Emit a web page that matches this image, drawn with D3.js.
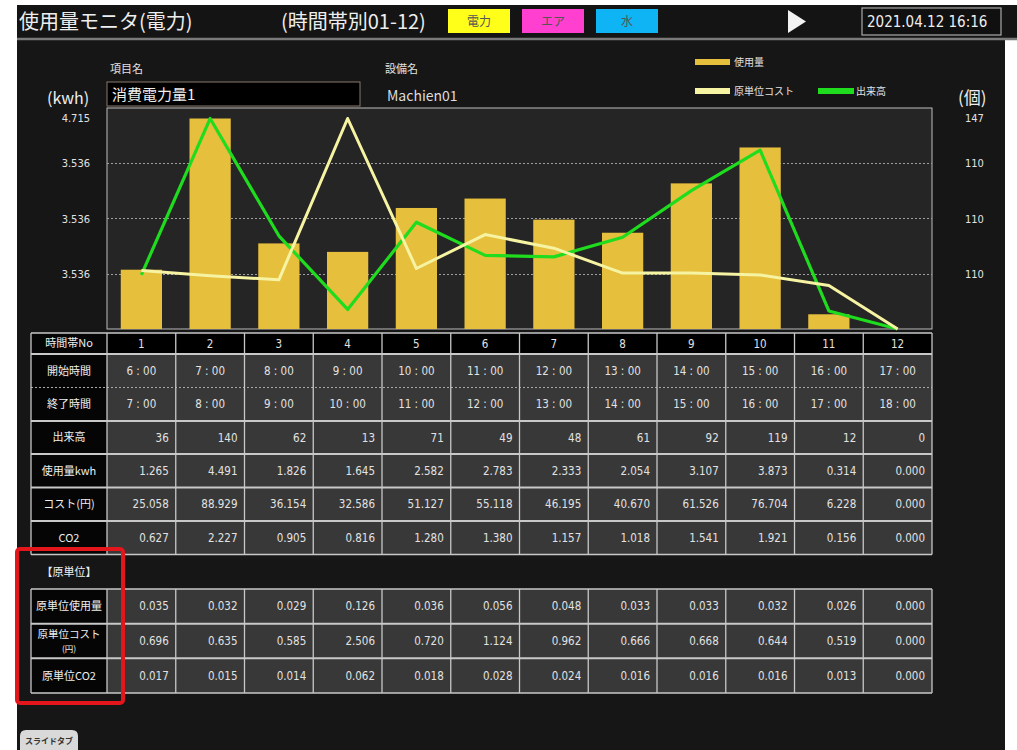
<!DOCTYPE html>
<html><head><meta charset="utf-8">
<script src="https://cdn.jsdelivr.net/npm/d3@7"></script>
<style>
html,body{margin:0;padding:0;background:#fff;}
svg{display:block;}
text{font-family:"Noto Sans CJK JP","Noto Sans",sans-serif;}
.num{font-family:"Liberation Sans Narrow","DejaVu Sans Condensed","Noto Sans CJK JP",sans-serif;}
</style></head>
<body>
<script>
// ---------- data ----------
const slots = ["1","2","3","4","5","6","7","8","9","10","11","12"];
const startTimes = ["6 : 00","7 : 00","8 : 00","9 : 00","10 : 00","11 : 00","12 : 00","13 : 00","14 : 00","15 : 00","16 : 00","17 : 00"];
const endTimes = ["7 : 00","8 : 00","9 : 00","10 : 00","11 : 00","12 : 00","13 : 00","14 : 00","15 : 00","16 : 00","17 : 00","18 : 00"];
const output = [36,140,62,13,71,49,48,61,92,119,12,0];
const usage = [1.265,4.491,1.826,1.645,2.582,2.783,2.333,2.054,3.107,3.873,0.314,0.000];
const cost = [25.058,88.929,36.154,32.586,51.127,55.118,46.195,40.670,61.526,76.704,6.228,0.000];
const co2 = [0.627,2.227,0.905,0.816,1.280,1.380,1.157,1.018,1.541,1.921,0.156,0.000];
const unitUsage = [0.035,0.032,0.029,0.126,0.036,0.056,0.048,0.033,0.033,0.032,0.026,0.000];
const unitCost = [0.696,0.635,0.585,2.506,0.720,1.124,0.962,0.666,0.668,0.644,0.519,0.000];
const unitCO2 = [0.017,0.015,0.014,0.062,0.018,0.028,0.024,0.016,0.016,0.016,0.013,0.000];
const leftMax = 4.715, rightMax = 147, costMax = 2.631;
const leftTickValues = [4.715, 3.536, 2.358, 1.179];
const leftTickLabels = ["4.715","3.536","3.536","3.536"];
const rightTickValues = [147, 110.25, 73.5, 36.75];
const rightTickLabels = ["147","110","110","110"];
const legendNames = ["使用量","原単位コスト","出来高"];
const tableLabels = ["時間帯No","開始時間","終了時間","出来高","使用量kwh","コスト(円)","CO2"];
const unitLabels = [["原単位使用量"],["原単位コスト","(円)"],["原単位CO2"]];

// ---------- layout ----------
const W = 1017, H = 750;
const plot = {x0:107, x1:932, y0:108, y1:329};
const C = {bar:"#e6bf3c", green:"#1fdc1f", pale:"#f6f3a2", txt:"#e2e2e2", cell:"#383838", lbl:"#050505", line:"#c8c8c8"};

const svg = d3.select("body").append("svg").attr("width",W).attr("height",H);
svg.append("rect").attr("width",W).attr("height",H).attr("fill","#fff");
svg.append("rect").attr("x",17).attr("y",5).attr("width",988).attr("height",745).attr("fill","#161616");
// header
svg.append("rect").attr("x",17).attr("y",5).attr("width",1000).attr("height",33).attr("fill","#141414");
svg.append("line").attr("x1",17).attr("x2",1017).attr("y1",39).attr("y2",39).attr("stroke","#7a7a7a").attr("stroke-width",2.5);
svg.append("text").attr("x",19).attr("y",29).attr("font-size",20).attr("fill","#eee").text("使用量モニタ(電力)");
svg.append("text").attr("x",281).attr("y",29).attr("font-size",20).attr("fill","#eee").text("(時間帯別01-12)");
const btns = [{t:"電力",c:"#ffff1a",x:448},{t:"エア",c:"#ff3fd0",x:522},{t:"水",c:"#0fb4f5",x:596}];
btns.forEach(b=>{
  svg.append("rect").attr("x",b.x).attr("y",9).attr("width",62).attr("height",24).attr("fill",b.c);
  svg.append("text").attr("x",b.x+31).attr("y",26).attr("text-anchor","middle").attr("font-size",12).attr("fill","#555").text(b.t);
});
svg.append("path").attr("d","M788,10 L806,21.5 L788,33 Z").attr("fill","#f2f2f2");
svg.append("rect").attr("x",862).attr("y",8).attr("width",139).attr("height",27).attr("fill","#101010").attr("stroke","#aaa").attr("stroke-width",1.2);
svg.append("text").attr("class","num").attr("x",867).attr("y",27).attr("font-size",15).attr("fill","#eee").text("2021.04.12 16:16");

// item name / equipment
svg.append("text").attr("x",110).attr("y",73).attr("font-size",11).attr("fill",C.txt).text("項目名");
svg.append("rect").attr("x",107).attr("y",82).attr("width",253).attr("height",24).attr("fill","#000").attr("stroke","#8a7a6a");
svg.append("text").attr("x",112).attr("y",100).attr("font-size",15).attr("fill","#eee").text("消費電力量1");
svg.append("text").attr("x",385).attr("y",73).attr("font-size",11).attr("fill",C.txt).text("設備名");
svg.append("text").attr("x",387).attr("y",101).attr("font-size",14).attr("fill","#ddd").attr("font-family","DejaVu Sans Mono, monospace").text("Machien01");
svg.append("text").attr("x",47).attr("y",104).attr("font-size",16).attr("fill","#eee").text("(kwh)");
svg.append("text").attr("x",958).attr("y",104).attr("font-size",17).attr("fill","#eee").text("(個)");

// legend
const lg = svg.append("g");
lg.append("rect").attr("x",695).attr("y",59).attr("width",35).attr("height",6).attr("fill",C.bar);
lg.append("text").attr("x",734).attr("y",66).attr("font-size",10).attr("fill",C.txt).text(legendNames[0]);
lg.append("rect").attr("x",695).attr("y",88).attr("width",35).attr("height",6).attr("fill",C.pale);
lg.append("text").attr("x",734).attr("y",95).attr("font-size",10).attr("fill",C.txt).text(legendNames[1]);
lg.append("rect").attr("x",818).attr("y",88).attr("width",36).attr("height",6).attr("fill",C.green);
lg.append("text").attr("x",856).attr("y",95).attr("font-size",10).attr("fill",C.txt).text(legendNames[2]);

// scales
const x = d3.scaleBand().domain(slots).range([plot.x0,plot.x1]).paddingInner(0.4).paddingOuter(0.2);
const col = d3.scaleBand().domain(slots).range([plot.x0,plot.x1]).padding(0);
const yL = d3.scaleLinear().domain([0,leftMax]).range([plot.y1,plot.y0]);
const yR = d3.scaleLinear().domain([0,rightMax]).range([plot.y1,plot.y0]);
const yC = d3.scaleLinear().domain([0,costMax]).range([plot.y1,plot.y0]);

svg.append("rect").attr("x",plot.x0).attr("y",plot.y0).attr("width",plot.x1-plot.x0).attr("height",plot.y1-plot.y0)
  .attr("fill","#252525").attr("stroke","#bdbdbd").attr("stroke-width",1);
svg.append("g").selectAll("line").data(leftTickValues.slice(1)).join("line")
  .attr("x1",plot.x0).attr("x2",plot.x1).attr("y1",d=>Math.round(yL(d))+0.5).attr("y2",d=>Math.round(yL(d))+0.5)
  .attr("stroke","#a0a0a0").attr("stroke-dasharray","2,2");

const axL = svg.append("g").attr("transform",`translate(${plot.x0},0)`)
  .call(d3.axisLeft(yL).tickValues(leftTickValues).tickSize(0).tickPadding(17).tickFormat((d,i)=>leftTickLabels[i]));
axL.select(".domain").remove();
axL.selectAll("text").attr("class","num").attr("font-size",11).attr("fill",C.txt).attr("dy",(d,i)=>i===0?"1.2em":"0.32em");
const axR = svg.append("g").attr("transform",`translate(${plot.x1},0)`)
  .call(d3.axisRight(yR).tickValues(rightTickValues).tickSize(0).tickPadding(33).tickFormat((d,i)=>rightTickLabels[i]));
axR.select(".domain").remove();
axR.selectAll("text").attr("class","num").attr("font-size",11).attr("fill",C.txt).attr("dy",(d,i)=>i===0?"1.2em":"0.32em");

// bars
svg.append("g").selectAll("rect").data(usage).join("rect")
  .attr("x",(d,i)=>x(slots[i])).attr("width",x.bandwidth())
  .attr("y",d=>yL(d)).attr("height",d=>plot.y1-yL(d)).attr("fill",C.bar);
const cx = i => x(slots[i]) + x.bandwidth()/2;
svg.append("path").datum(output).attr("fill","none").attr("stroke",C.green).attr("stroke-width",3.2).attr("stroke-linejoin","round")
  .attr("d",d3.line().x((d,i)=>cx(i)).y(d=>yR(d)));
svg.append("path").datum(unitCost).attr("fill","none").attr("stroke",C.pale).attr("stroke-width",3).attr("stroke-linejoin","round")
  .attr("d",d3.line().x((d,i)=>cx(i)).y(d=>yC(d)));

// ---------- table ----------
const f3 = d3.format(".3f");
const t = svg.append("g");
const lblX0 = 31, lblX1 = plot.x0;
const rowTops = [333,354,387.5,421,454,487.5,521,554.5];
const rows = [
  {vals:slots, align:"middle", hdr:true},
  {vals:startTimes, align:"middle"},
  {vals:endTimes, align:"middle"},
  {vals:output.map(String), align:"end"},
  {vals:usage.map(f3), align:"end"},
  {vals:cost.map(f3), align:"end"},
  {vals:co2.map(f3), align:"end"}
];
function drawRows(rowsDef, tops, labels, g){
  rowsDef.forEach((r,ri)=>{
    const y0 = tops[ri], y1 = tops[ri+1], ym = (y0+y1)/2;
    g.append("rect").attr("x",lblX0).attr("y",y0).attr("width",lblX1-lblX0).attr("height",y1-y0).attr("fill",C.lbl);
    g.selectAll(null).data(r.vals).join("rect")
      .attr("x",(d,i)=>col(slots[i])).attr("y",y0).attr("width",col.bandwidth()).attr("height",y1-y0)
      .attr("fill",r.hdr?"#000":C.cell);
    const lab = labels[ri];
    if(Array.isArray(lab) && lab.length===2){
      g.append("text").attr("x",(lblX0+lblX1)/2).attr("y",ym-7).attr("dy","0.35em")
        .attr("text-anchor","middle").attr("font-size",10.5).attr("fill","#eee").text(lab[0]);
      g.append("text").attr("x",(lblX0+lblX1)/2).attr("y",ym+8).attr("dy","0.35em")
        .attr("text-anchor","middle").attr("font-size",8.5).attr("fill","#eee").text(lab[1]);
    } else {
      g.append("text").attr("x",(lblX0+lblX1)/2).attr("y",ym).attr("dy","0.35em")
        .attr("text-anchor","middle").attr("font-size",11).attr("fill","#eee").text(Array.isArray(lab)?lab[0]:lab);
    }
    g.selectAll(null).data(r.vals).join("text").attr("class","num")
      .attr("x",(d,i)=> r.align==="middle" ? col(slots[i])+col.bandwidth()/2 : col(slots[i])+col.bandwidth()-7)
      .attr("y",ym).attr("dy","0.35em").attr("text-anchor",r.align).attr("font-size",11.5).attr("fill",C.txt).text(d=>d);
  });
}
drawRows(rows, rowTops, tableLabels, t);
function gridLines(g, tops, dashedIdx){
  const yTop = tops[0], yBot = tops[tops.length-1];
  tops.forEach((y,i)=>{
    const ln = g.append("line").attr("x1",lblX0).attr("x2",plot.x1).attr("y1",y).attr("y2",y)
      .attr("stroke",C.line).attr("stroke-width",i===0||i===tops.length-1?1.5:2);
    if(dashedIdx.includes(i)) ln.attr("stroke-dasharray","2,2").attr("stroke-width",1).attr("stroke","#aaa");
  });
  const xs = [lblX0, lblX1].concat(slots.map(s=>col(s)+col.bandwidth()));
  xs.forEach(xv=>{
    g.append("line").attr("x1",xv).attr("x2",xv).attr("y1",yTop).attr("y2",yBot).attr("stroke",C.line).attr("stroke-width",1.3);
  });
}
gridLines(t, rowTops, [2]);

// unit table
svg.append("text").attr("x",69).attr("y",576).attr("text-anchor","middle").attr("font-size",11).attr("fill","#eee").text("【原単位】");
const t2 = svg.append("g");
const rowTops2 = [589,623.7,658.3,693];
const rows2 = [
  {vals:unitUsage.map(f3), align:"end"},
  {vals:unitCost.map(f3), align:"end"},
  {vals:unitCO2.map(f3), align:"end"}
];
drawRows(rows2, rowTops2, unitLabels, t2);
gridLines(t2, rowTops2, []);

// red highlight box
svg.append("rect").attr("x",17).attr("y",549).attr("width",106).attr("height",154).attr("rx",3)
  .attr("fill","none").attr("stroke","#e3161b").attr("stroke-width",4);

// slide tab
svg.append("path").attr("d","M20,750 L20,736 Q20,730 26,730 L72,730 Q78,730 78,736 L78,750 Z").attr("fill","#d9d9d9");
svg.append("text").attr("x",49).attr("y",744).attr("text-anchor","middle").attr("font-size",8).attr("font-weight","bold").attr("fill","#333").text("スライドタブ");
</script>
</body></html>
